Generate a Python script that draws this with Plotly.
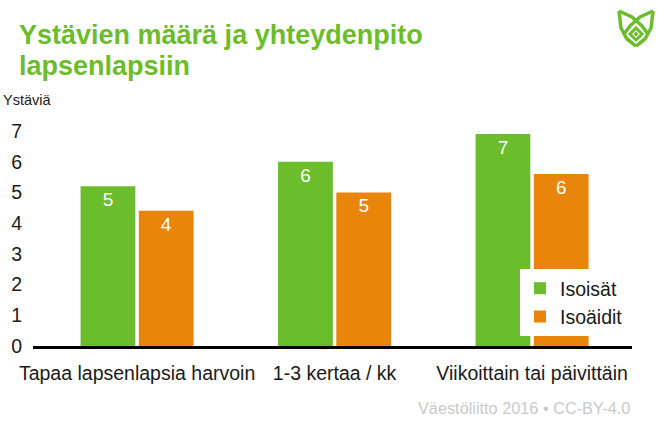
import plotly.graph_objects as go

# data
categories = ["Tapaa lapsenlapsia harvoin", "1-3 kertaa / kk", "Viikoittain tai päivittäin"]
isoisat = [5.2, 6.0, 6.9]
isoaidit = [4.4, 5.0, 5.6]
y_ticks = [0, 1, 2, 3, 4, 5, 6, 7]

GREEN = "#6cbd2b"
ORANGE = "#e8850a"
FONT = "Liberation Sans, Arial, sans-serif"

W, H = 662, 440
L, R, T, B = 33, 30, 131, 94


def px(x):
    return (x - L) / (W - L - R)


def py(y):
    return (H - B - y) / (H - T - B)


def logo_path(points):
    return "M " + " L ".join(f"{px(x):.4f},{py(y):.4f}" for x, y in points)


fig = go.Figure()
for name, vals, color in [("Isoisät", isoisat, GREEN), ("Isoäidit", isoaidit, ORANGE)]:
    fig.add_trace(
        go.Bar(
            x=categories,
            y=vals,
            name=name,
            marker={"color": color, "line": {"width": 0}},
            texttemplate="%{y:.0f}",
            textposition="inside",
            insidetextanchor="end",
            textangle=0,
            textfont={"color": "white", "size": 19, "family": FONT},
            constraintext="none",
        )
    )

# logo (two leaves + small diamond), drawn as paper-space paths
shapes = []
for pts in [
    [(619, 11), (621, 28), (627, 39), (636, 46)],
    [(619, 11), (632, 17), (642, 26), (648, 34)],
    [(653, 11), (651, 28), (645, 39), (636, 46)],
    [(653, 11), (640, 17), (630, 26), (624, 34)],
]:
    shapes.append(
        {"type": "path", "xref": "paper", "yref": "paper", "path": logo_path(pts),
         "line": {"color": GREEN, "width": 3.5}}
    )
shapes.append(
    {"type": "path", "xref": "paper", "yref": "paper",
     "path": logo_path([(636, 28), (642, 34), (636, 40), (630, 34)]) + " Z",
     "line": {"color": GREEN, "width": 3}, "fillcolor": "white"}
)
shapes.append(
    {"type": "circle", "xref": "paper", "yref": "paper",
     "x0": px(634.5), "x1": px(637.5), "y0": py(35.5), "y1": py(32.5),
     "line": {"color": GREEN, "width": 1}, "fillcolor": GREEN}
)

title_font = {"size": 27, "color": GREEN, "family": FONT}
note = {"xref": "paper", "yref": "paper", "showarrow": False}

fig.update_layout(
    width=W,
    height=H,
    margin={"l": L, "r": R, "t": T, "b": B},
    paper_bgcolor="white",
    plot_bgcolor="white",
    font={"family": FONT, "color": "#1a1a1a", "size": 19.5},
    barmode="group",
    bargap=0.41,
    bargroupgap=0.06,
    xaxis={
        "range": [-0.527, 2.506],
        "showline": True,
        "linecolor": "black",
        "linewidth": 2.5,
        "showgrid": False,
        "ticks": "",
        "ticklabelstandoff": 8,
        "tickfont": {"size": 19.5},
    },
    yaxis={
        "range": [0, 7],
        "tickvals": y_ticks,
        "showgrid": False,
        "zeroline": False,
        "showline": False,
        "ticks": "",
        "ticklabelstandoff": 10,
        "tickfont": {"size": 19.5},
    },
    legend={
        "x": px(520),
        "y": py(269),
        "xanchor": "left",
        "yanchor": "top",
        "bgcolor": "white",
        "font": {"size": 19.5},
        "tracegroupgap": 0,
    },
    shapes=shapes,
    annotations=[
        {**note, "text": "<b>Ystävien määrä ja yhteydenpito</b>", "x": px(17), "y": py(35),
         "xanchor": "left", "yanchor": "middle", "font": title_font},
        {**note, "text": "<b>lapsenlapsiin</b>", "x": px(17), "y": py(66),
         "xanchor": "left", "yanchor": "middle", "font": title_font},
        {**note, "text": "Ystäviä", "x": px(1), "y": py(100),
         "xanchor": "left", "yanchor": "middle",
         "font": {"size": 14.5, "color": "#1a1a1a"}},
        {**note, "text": "Väestöliitto 2016 • CC-BY-4.0",
         "x": px(632), "y": py(408), "xanchor": "right", "yanchor": "middle",
         "font": {"size": 16.3, "color": "#c9c9c9"}},
    ],
)

fig.write_html(
    "out.html",
    config={"displayModeBar": False},
    post_script="document.body.style.margin = '0';",
)
